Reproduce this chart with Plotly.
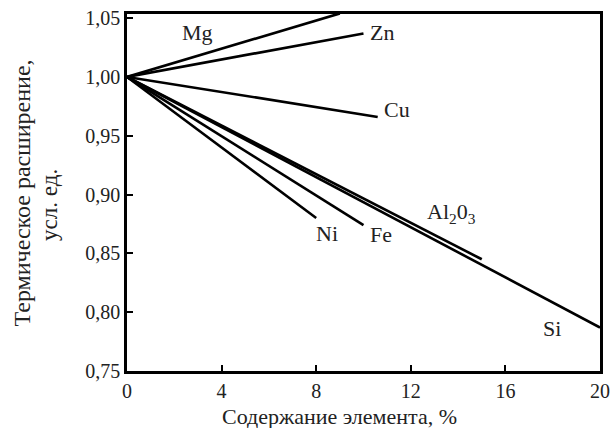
import plotly.graph_objects as go

# Series: each line starts at (0, 1.00) and ends at the listed point
elements = ["Mg", "Zn", "Cu", "Ni", "Fe", "Al2O3", "Si"]
x_start = [0, 0, 0, 0, 0, 0, 0]
y_start = [1.00, 1.00, 1.00, 1.00, 1.00, 1.00, 1.00]
x_end = [9.0, 10.0, 10.6, 8.0, 10.0, 15.0, 20.0]
y_end = [1.054, 1.037, 0.966, 0.880, 0.874, 0.845, 0.787]

label_text = ["Mg", "Zn", "Cu", "Ni", "Fe", "Al<sub>2</sub>0<sub>3</sub>", "Si"]
label_x = [3.0, 10.8, 11.4, 8.45, 10.75, 13.7, 17.95]
label_y = [1.038, 1.038, 0.972, 0.867, 0.866, 0.884, 0.786]

x_ticks = [0, 4, 8, 12, 16, 20]
x_tick_text = ["0", "4", "8", "12", "16", "20"]
y_ticks = [0.75, 0.80, 0.85, 0.90, 0.95, 1.00, 1.05]
y_tick_text = ["0,75", "0,80", "0,85", "0,90", "0,95", "1,00", "1,05"]

FONT = "Times New Roman"
TXT = "#222"

fig = go.Figure()
for i, name in enumerate(elements):
    fig.add_trace(go.Scatter(
        x=[x_start[i], x_end[i]], y=[y_start[i], y_end[i]],
        mode="lines", name=name,
        line=dict(color="black", width=2.6),
        showlegend=False, hoverinfo="skip",
    ))

for t, lx, ly in zip(label_text, label_x, label_y):
    fig.add_annotation(x=lx, y=ly, text=t, showarrow=False,
                       font=dict(family=FONT, size=22, color=TXT))

# Axis titles
fig.add_annotation(x=0.45, y=-0.127, xref="paper", yref="paper",
                   text="Содержание элемента, %", showarrow=False,
                   xanchor="center", yanchor="middle",
                   font=dict(family=FONT, size=22, color=TXT))
fig.add_annotation(x=-0.222, y=0.50, xref="paper", yref="paper",
                   text="Термическое расширение,", showarrow=False,
                   textangle=-90, xanchor="center", yanchor="middle",
                   font=dict(family=FONT, size=24, color=TXT))
fig.add_annotation(x=-0.163, y=0.465, xref="paper", yref="paper",
                   text="усл. ед.", showarrow=False,
                   textangle=-90, xanchor="center", yanchor="middle",
                   font=dict(family=FONT, size=23, color=TXT))

axis_common = dict(
    showline=True, linecolor="black", linewidth=2.6, mirror=True,
    ticks="inside", ticklen=6, tickwidth=2, tickcolor="black",
    showgrid=False, zeroline=False, ticklabeloverflow="allow",
    automargin=False,
    tickfont=dict(family=FONT, size=20, color=TXT),
)

fig.update_xaxes(range=[0, 20], tickvals=x_ticks, ticktext=x_tick_text, **axis_common)
fig.update_yaxes(range=[0.75, 1.0535], tickvals=y_ticks, ticktext=y_tick_text, **axis_common)

fig.update_layout(
    width=610, height=428,
    margin=dict(l=127, r=10, t=14, b=57, autoexpand=False),
    paper_bgcolor="white", plot_bgcolor="white",
    font=dict(family=FONT),
)

fig.write_html(
    "out.html",
    config={"displayModeBar": False},
    post_script="document.body.style.margin='0';document.body.style.overflow='hidden';",
)
